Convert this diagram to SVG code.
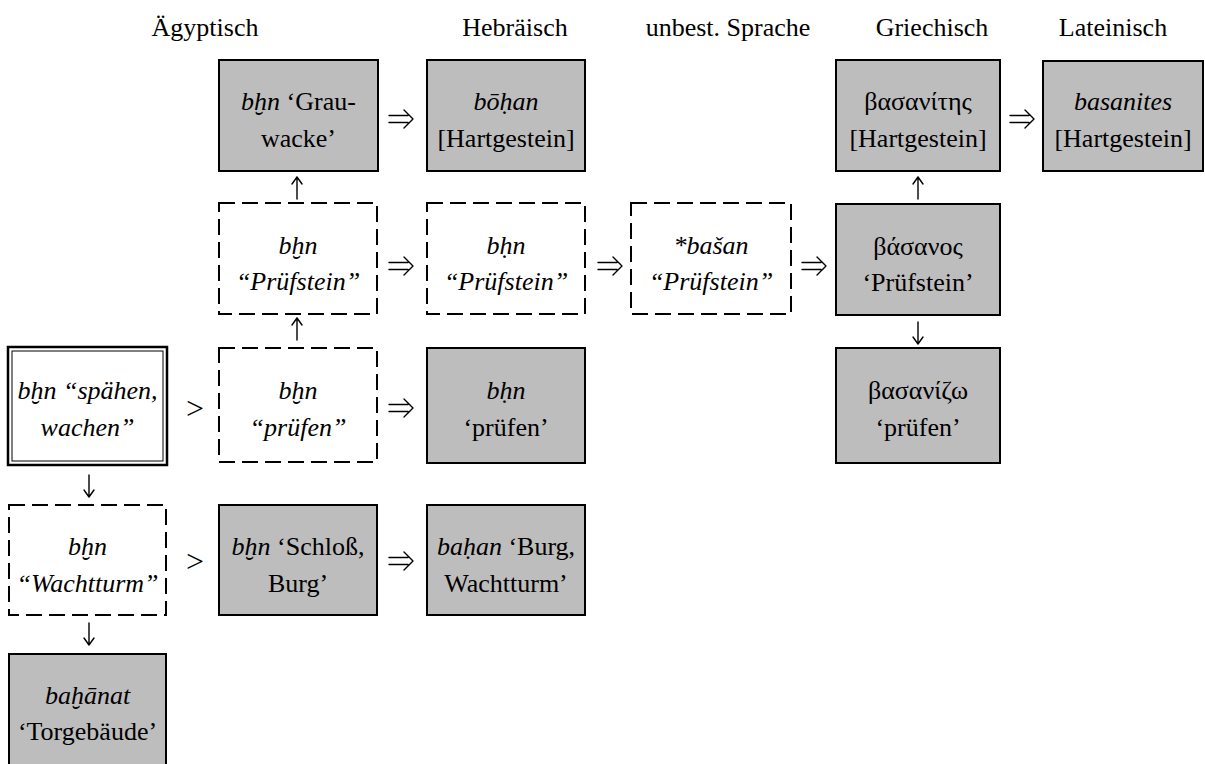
<svg xmlns="http://www.w3.org/2000/svg" width="1205" height="764" viewBox="0 0 1205 764">
<style>
  .t{font-family:"Liberation Serif","DejaVu Serif",serif;font-size:26px;fill:#000;text-anchor:middle}
  .i{font-style:italic}
  .gt{font-size:32px}
  .g{fill:#bdbdbd;stroke:#000;stroke-width:2}
  .d{fill:#fff;stroke:#000;stroke-width:2;stroke-dasharray:16 7}
  .w{fill:#fff;stroke:#000}
  .c{fill:none;stroke:#000;stroke-width:1.4;stroke-linecap:round;stroke-linejoin:round}
</style>
<defs>
  <path id="dbl" d="M-12,-3.5H7M-12,3.5H7M3,-9L12,0L3,9"/>
  <path id="up" d="M0,22V0M-5,7L0,0L5,7"/>
  <path id="down" d="M0,0V22M-5,15L0,22L5,15"/>
</defs>
<rect width="1205" height="764" fill="#fff"/>

<g id="headers" class="t">
  <text x="205" y="36">Ägyptisch</text>
  <text x="515" y="36">Hebräisch</text>
  <text x="728" y="36">unbest. Sprache</text>
  <text x="932" y="36">Griechisch</text>
  <text x="1113" y="36">Lateinisch</text>
</g>

<g id="n_grauwacke">
  <rect class="g" x="219" y="60" width="159" height="111"/>
  <text class="t" x="298.5" y="110"><tspan class="i">bḫn</tspan> ‘Grau-</text>
  <text class="t" x="298.5" y="147">wacke’</text>
</g>
<g id="n_bohan">
  <rect class="g" x="427" y="60" width="158" height="111"/>
  <text class="t i" x="506" y="110">bōḥan</text>
  <text class="t" x="506" y="147">[Hartgestein]</text>
</g>
<g id="n_basanites_gr">
  <rect class="g" x="836" y="60" width="164" height="111"/>
  <text class="t" x="918" y="110">βασανίτης</text>
  <text class="t" x="918" y="147">[Hartgestein]</text>
</g>
<g id="n_basanites_la">
  <rect class="g" x="1043" y="61" width="160" height="110"/>
  <text class="t i" x="1123" y="110">basanites</text>
  <text class="t" x="1123" y="147">[Hartgestein]</text>
</g>

<g id="n_pruefstein_eg">
  <rect class="d" x="219" y="203" width="158" height="111"/>
  <text class="t i" x="298" y="254">bḫn</text>
  <text class="t i" x="298" y="290">“Prüfstein”</text>
</g>
<g id="n_pruefstein_he">
  <rect class="d" x="427" y="203" width="158" height="111"/>
  <text class="t i" x="506" y="254">bḥn</text>
  <text class="t i" x="506" y="290">“Prüfstein”</text>
</g>
<g id="n_bashan">
  <rect class="d" x="631" y="203" width="160" height="111"/>
  <text class="t i" x="711" y="254">*bašan</text>
  <text class="t i" x="711" y="290">“Prüfstein”</text>
</g>
<g id="n_basanos">
  <rect class="g" x="836" y="204" width="164" height="111"/>
  <text class="t" x="918" y="255">βάσανος</text>
  <text class="t" x="918" y="291">‘Prüfstein’</text>
</g>

<g id="n_spaehen">
  <rect class="w" x="8" y="347" width="159" height="118" stroke-width="2.5"/>
  <rect class="w" x="12" y="351" width="151" height="110" stroke-width="1"/>
  <text class="t i" x="87.5" y="399">bḫn “spähen,</text>
  <text class="t i" x="87.5" y="436">wachen”</text>
</g>
<g id="n_pruefen_eg">
  <rect class="d" x="219" y="348" width="158" height="114"/>
  <text class="t i" x="298" y="399">bḫn</text>
  <text class="t i" x="298" y="436">“prüfen”</text>
</g>
<g id="n_pruefen_he">
  <rect class="g" x="427" y="348" width="158" height="115"/>
  <text class="t i" x="506" y="399">bḥn</text>
  <text class="t" x="506" y="436">‘prüfen’</text>
</g>
<g id="n_basanizo">
  <rect class="g" x="836" y="348" width="164" height="115"/>
  <text class="t" x="918" y="399">βασανίζω</text>
  <text class="t" x="918" y="436">‘prüfen’</text>
</g>

<g id="n_wachtturm">
  <rect class="d" x="9" y="505" width="157" height="110"/>
  <text class="t i" x="87.5" y="555">bḫn</text>
  <text class="t i" x="87.5" y="592">“Wachtturm”</text>
</g>
<g id="n_schloss">
  <rect class="g" x="219" y="505" width="158" height="110"/>
  <text class="t" x="298" y="555"><tspan class="i">bḫn</tspan> ‘Schloß,</text>
  <text class="t" x="298" y="592">Burg’</text>
</g>
<g id="n_bahan">
  <rect class="g" x="427" y="505" width="158" height="110"/>
  <text class="t" x="506" y="555"><tspan class="i">baḥan</tspan> ‘Burg,</text>
  <text class="t" x="506" y="592">Wachtturm’</text>
</g>

<g id="n_bahanat">
  <rect class="g" x="9" y="654" width="157" height="120"/>
  <text class="t i" x="87.5" y="704">baḫānat</text>
  <text class="t" x="87.5" y="740">‘Torgebäude’</text>
</g>

<g id="connectors">
  <g class="c">
    <use href="#dbl" x="401" y="119"/>
    <use href="#dbl" x="1022" y="119"/>
    <use href="#dbl" x="401" y="266"/>
    <use href="#dbl" x="610" y="266"/>
    <use href="#dbl" x="814" y="266"/>
    <use href="#dbl" x="401" y="408"/>
    <use href="#dbl" x="401" y="561"/>
    <use href="#up" x="297" y="177"/>
    <use href="#up" x="297" y="318"/>
    <use href="#up" x="918" y="177"/>
    <use href="#down" x="918" y="322"/>
    <use href="#down" x="89" y="475"/>
    <use href="#down" x="89" y="623"/>
  </g>
  <text class="t gt" x="195" y="419">&gt;</text>
  <text class="t gt" x="195" y="572">&gt;</text>
</g>
</svg>
